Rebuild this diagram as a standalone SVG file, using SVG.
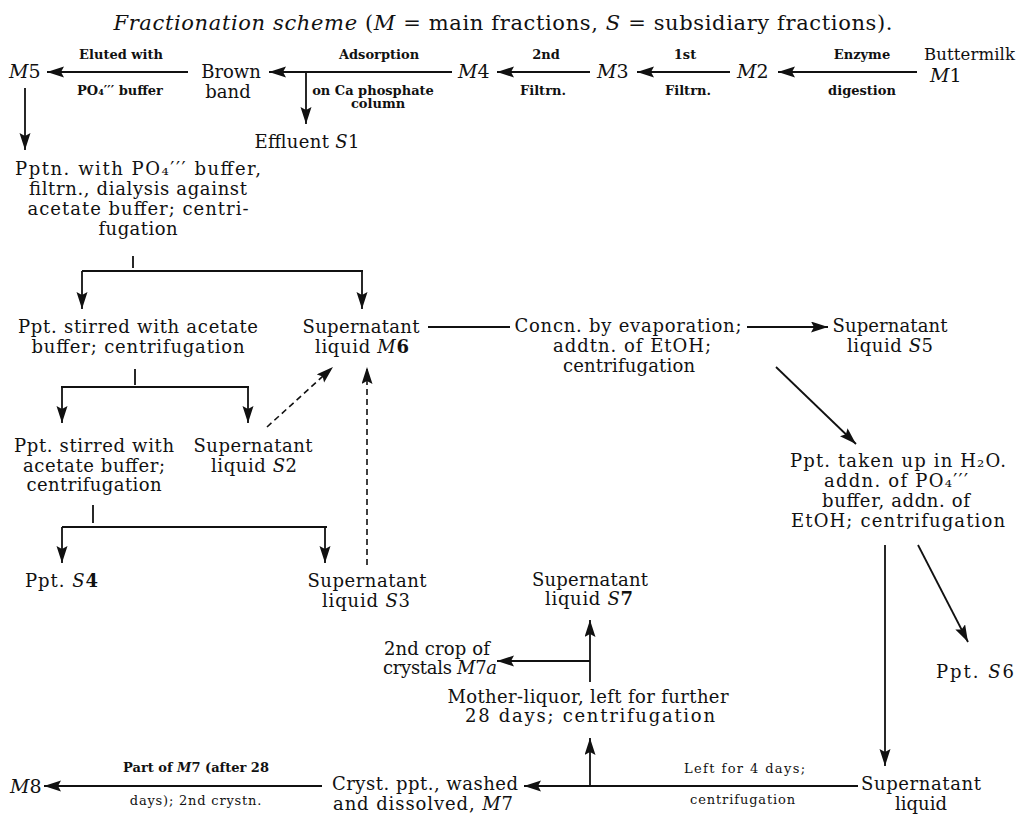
<svg xmlns="http://www.w3.org/2000/svg" width="1018" height="815" viewBox="0 0 1018 815">
<style>
text{font-family:"DejaVu Serif","Liberation Serif",serif;fill:#111;}
.t{font-size:18px;text-anchor:middle;}
.ts{font-size:18px;}
.m{font-size:19px;}
.sm{font-size:13px;font-weight:bold;text-anchor:middle;}
.sn{font-size:13px;text-anchor:middle;letter-spacing:0.8px;}
.ti{font-size:21px;text-anchor:middle;}
.i{font-style:italic;}
.b{font-weight:bold;}
.ln{stroke:#111;stroke-width:1.8;fill:none;}
.ar{stroke:#111;stroke-width:1.8;fill:none;marker-end:url(#ah);}
.da{stroke:#111;stroke-width:1.6;fill:none;stroke-dasharray:6 4;marker-end:url(#ah);}
</style>
<defs>
<marker id="ah" markerUnits="userSpaceOnUse" markerWidth="18" markerHeight="12" refX="17" refY="5.5" orient="auto">
<path d="M0,0 L17,5.5 L0,11 L3,5.5 z" fill="#111"/>
</marker>
</defs>
<rect width="1018" height="815" fill="#fff"/>

<text class="ti" x="503" y="30" textLength="779"><tspan class="i">Fractionation scheme</tspan> (<tspan class="i">M</tspan> = main fractions, <tspan class="i">S</tspan> = subsidiary fractions).</text>

<g id="connectors">
<line class="ar" x1="188" y1="72" x2="47" y2="72"/>
<line class="ar" x1="452" y1="72" x2="269" y2="72"/>
<line class="ar" x1="306" y1="72" x2="306" y2="124"/>
<line class="ar" x1="590" y1="72" x2="497" y2="72"/>
<line class="ar" x1="730" y1="72" x2="637" y2="72"/>
<line class="ar" x1="917" y1="72" x2="778" y2="72"/>
<line class="ar" x1="25" y1="88" x2="25" y2="150"/>
<line class="ln" x1="133" y1="256" x2="133" y2="268"/>
<line class="ln" x1="82" y1="271" x2="363" y2="271"/>
<line class="ar" x1="82" y1="271" x2="82" y2="309"/>
<line class="ar" x1="362" y1="271" x2="362" y2="309"/>
<line class="ln" x1="428" y1="327" x2="510" y2="327"/>
<line class="ar" x1="747" y1="327" x2="828" y2="327"/>
<line class="ar" x1="776" y1="367" x2="856" y2="444"/>
<line class="ln" x1="135" y1="369" x2="135" y2="385"/>
<line class="ln" x1="61" y1="387" x2="249" y2="387"/>
<line class="ar" x1="62" y1="387" x2="62" y2="423"/>
<line class="ar" x1="248" y1="387" x2="248" y2="423"/>
<line class="da" x1="267" y1="427" x2="333" y2="367"/>
<line class="da" x1="367" y1="565" x2="367" y2="367"/>
<line class="ln" x1="93" y1="505" x2="93" y2="523"/>
<line class="ln" x1="62" y1="527" x2="327" y2="527"/>
<line class="ar" x1="62" y1="527" x2="62" y2="563"/>
<line class="ar" x1="325" y1="527" x2="325" y2="563"/>
<line class="ar" x1="885" y1="545" x2="885" y2="766"/>
<line class="ar" x1="918" y1="545" x2="968" y2="642"/>
<line class="ar" x1="858" y1="786" x2="524" y2="786"/>
<line class="ar" x1="590" y1="786" x2="590" y2="738"/>
<line class="ar" x1="590" y1="682" x2="590" y2="620"/>
<line class="ar" x1="590" y1="661" x2="497" y2="661"/>
<line class="ar" x1="322" y1="786" x2="44" y2="786"/>
</g>

<g id="edge-labels">
<text class="sm" x="121" y="59">Eluted with</text>
<text class="sm" x="120" y="95">PO₄′′′ buffer</text>
<text class="sm" x="379" y="59">Adsorption</text>
<text class="sm" x="373" y="95">on Ca phosphate</text>
<text class="sm" x="378" y="108">column</text>
<text class="sm" x="546" y="59">2nd</text>
<text class="sm" x="543" y="95">Filtrn.</text>
<text class="sm" x="685" y="59">1st</text>
<text class="sm" x="688" y="95">Filtrn.</text>
<text class="sm" x="862" y="59">Enzyme</text>
<text class="sm" x="862" y="95">digestion</text>
<text class="sn" x="745" y="773" textLength="122">Left for 4 days;</text>
<text class="sn" x="743" y="804" textLength="106">centrifugation</text>
<text class="sm" x="196" y="772">Part of <tspan class="i">M</tspan>7 (after 28</text>
<text class="sn" x="196" y="805">days); 2nd crystn.</text>
</g>

<g id="n-M1"><text class="ts" x="924" y="60" style="font-size:16.5px" textLength="91">Buttermilk</text><text class="m" x="930" y="82"><tspan class="i">M</tspan>1</text></g>
<g id="n-M2"><text class="m" x="737" y="78"><tspan class="i">M</tspan>2</text></g>
<g id="n-M3"><text class="m" x="597" y="78"><tspan class="i">M</tspan>3</text></g>
<g id="n-M4"><text class="m" x="458" y="78"><tspan class="i">M</tspan>4</text></g>
<g id="n-brown"><text class="t" x="231" y="78">Brown</text><text class="t" x="228" y="98">band</text></g>
<g id="n-M5"><text class="m" x="9" y="78"><tspan class="i">M</tspan>5</text></g>
<g id="n-S1"><text class="t" x="307" y="148" textLength="105">Effluent <tspan class="i">S</tspan>1</text></g>
<g id="n-pptn">
<text class="t" x="138" y="175" textLength="246">Pptn. with PO₄′′′ buffer,</text>
<text class="t" x="138" y="195" textLength="218">filtrn., dialysis against</text>
<text class="t" x="138" y="215" textLength="221">acetate buffer; centri-</text>
<text class="t" x="138" y="235" textLength="79">fugation</text>
</g>
<g id="n-ppt1"><text class="t" x="138" y="333" textLength="240">Ppt. stirred with acetate</text><text class="t" x="138" y="353" textLength="213">buffer; centrifugation</text></g>
<g id="n-M6"><text class="t" x="361" y="333" textLength="117">Supernatant</text><text class="t" x="362" y="353" textLength="94">liquid <tspan class="i">M</tspan><tspan class="b">6</tspan></text></g>
<g id="n-concn"><text class="t" x="628" y="332" textLength="227">Concn. by evaporation;</text><text class="t" x="632" y="352" textLength="158">addtn. of EtOH;</text><text class="t" x="629" y="372" textLength="132">centrifugation</text></g>
<g id="n-S5"><text class="t" x="890" y="332" textLength="115">Supernatant</text><text class="t" x="890" y="352" textLength="86">liquid <tspan class="i">S</tspan>5</text></g>
<g id="n-ppt2"><text class="t" x="94" y="452" textLength="160">Ppt. stirred with</text><text class="t" x="94" y="472" textLength="142">acetate buffer;</text><text class="t" x="94" y="491" textLength="135">centrifugation</text></g>
<g id="n-S2"><text class="t" x="253" y="452" textLength="119">Supernatant</text><text class="t" x="254" y="472" textLength="86">liquid <tspan class="i">S</tspan>2</text></g>
<g id="n-pptH2O">
<text class="t" x="898" y="467" textLength="216">Ppt. taken up in H₂O.</text>
<text class="t" x="896" y="487" textLength="144">addn. of PO₄′′′</text>
<text class="t" x="896" y="507" textLength="148">buffer, addn. of</text>
<text class="t" x="898" y="527" textLength="214">EtOH; centrifugation</text>
</g>
<g id="n-S4"><text class="ts" x="25" y="587" textLength="73">Ppt. <tspan class="i">S</tspan><tspan class="b">4</tspan></text></g>
<g id="n-S3"><text class="t" x="367" y="587" textLength="119">Supernatant</text><text class="t" x="366" y="607" textLength="88">liquid <tspan class="i">S</tspan>3</text></g>
<g id="n-S7"><text class="t" x="590" y="586" textLength="116">Supernatant</text><text class="t" x="589" y="605" textLength="88">liquid <tspan class="i">S</tspan><tspan class="b">7</tspan></text></g>
<g id="n-S6"><text class="t" x="975" y="678" textLength="78">Ppt. <tspan class="i">S</tspan>6</text></g>
<g id="n-M7a"><text class="t" x="437" y="655" textLength="106">2nd crop of</text><text class="t" x="440" y="674" textLength="114">crystals <tspan class="i">M</tspan>7<tspan class="i">a</tspan></text></g>
<g id="n-mother"><text class="t" x="588" y="703" textLength="281">Mother-liquor, left for further</text><text class="t" x="590" y="722" textLength="250">28 days; centrifugation</text></g>
<g id="n-sup"><text class="t" x="921" y="790" textLength="120">Supernatant</text><text class="t" x="921" y="810">liquid</text></g>
<g id="n-M7"><text class="t" x="425" y="790" textLength="186">Cryst. ppt., washed</text><text class="t" x="423" y="810" textLength="180">and dissolved, <tspan class="i">M</tspan>7</text></g>
<g id="n-M8"><text class="m" x="10" y="793"><tspan class="i">M</tspan>8</text></g>
</svg>
